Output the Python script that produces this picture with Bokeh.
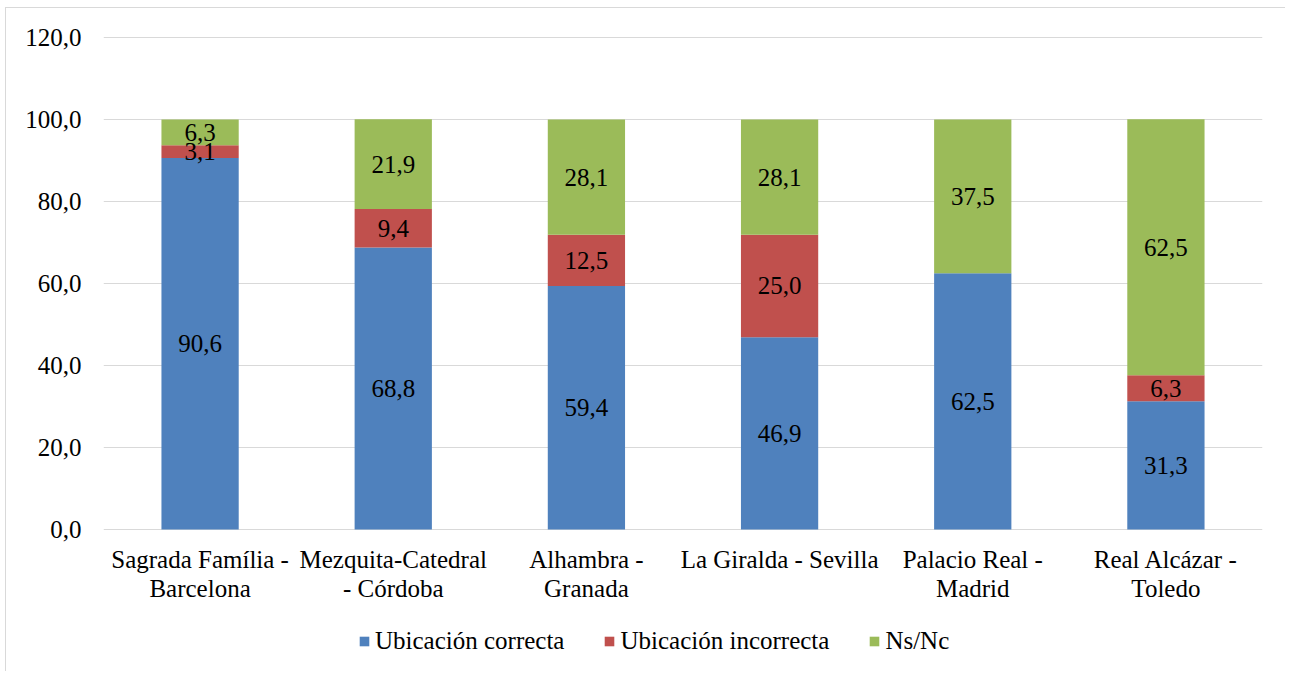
from bokeh.plotting import figure
from bokeh.models import (ColumnDataSource, CustomJSTickFormatter, Legend, LegendItem,
                          FixedTicker, Range1d)
from bokeh.core.properties import value
from bokeh.embed import file_html
from bokeh.resources import INLINE

# ---------------- data ----------------
categories = ["Sagrada Família -\nBarcelona", "Mezquita-Catedral\n- Córdoba", "Alhambra -\nGranada",
              "La Giralda - Sevilla", "Palacio Real -\nMadrid", "Real Alcázar -\nToledo"]
correcta = [90.6, 68.8, 59.4, 46.9, 62.5, 31.3]
incorrecta = [3.1, 9.4, 12.5, 25.0, 0.0, 6.3]
nsnc = [6.3, 21.9, 28.1, 28.1, 37.5, 62.5]
series_names = ["Ubicación correcta", "Ubicación incorrecta", "Ns/Nc"]
y_ticks = [0, 20, 40, 60, 80, 100, 120]

# ---------------- style / layout ----------------
colors = ["#4F81BD", "#C0504D", "#9BBB59"]
FONT = "Liberation Serif"
FS = "25px"
W, H = 1280, 664
Y_TOP = 120.5          # a little headroom so the 120 gridline is visible
Y_BOTTOM = -34.4       # room below zero for category labels and legend
PX_PER_UNIT = (H - 27 - 2) / (Y_TOP - Y_BOTTOM)
LABEL_TOP_PX = 17

src = ColumnDataSource(dict(cat=categories, c=correcta, i=incorrecta, n=nsnc))

p = figure(x_range=categories, y_range=Range1d(Y_BOTTOM, Y_TOP), width=W, height=H,
           output_backend="svg", toolbar_location=None,
           min_border_left=97, min_border_right=24, min_border_top=27, min_border_bottom=2)
p.outline_line_color = None
p.background_fill_color = "white"
p.border_fill_color = "white"
p.styles = {"position": "relative", "left": "5px", "top": "7px",
            "border-left": "1px solid #d9d9d9", "border-top": "1px solid #d9d9d9"}

rs = p.vbar_stack(["c", "i", "n"], x="cat", width=0.4, source=src, color=colors, line_color=None)

# data labels
lx, ly, lt = [], [], []
for k, cat in enumerate(categories):
    base = 0.0
    for vals in (correcta, incorrecta, nsnc):
        v = vals[k]
        if v > 0:
            lx.append(cat)
            ly.append(base + v / 2.0)
            lt.append(f"{v:.1f}".replace(".", ","))
        base += v
lsrc = ColumnDataSource(dict(x=lx, y=ly, t=lt))
p.text(x="x", y="y", text="t", source=lsrc, text_align="center", text_baseline="middle",
       text_font=value(FONT), text_font_size=FS, text_color="black")

# category labels (drawn below zero inside the frame)
csrc = ColumnDataSource(dict(x=categories, y=[-LABEL_TOP_PX / PX_PER_UNIT] * len(categories),
                             t=categories))
p.text(x="x", y="y", text="t", source=csrc, text_align="center", text_baseline="top",
       text_font=value(FONT), text_font_size=FS, text_color="black", text_line_height=1.06)

# axes
p.xaxis.visible = False
p.yaxis.ticker = FixedTicker(ticks=y_ticks)
p.yaxis.formatter = CustomJSTickFormatter(code="return tick.toFixed(1).replace('.', ',');")
p.yaxis.axis_line_color = None
p.yaxis.major_tick_line_color = None
p.yaxis.minor_tick_line_color = None
p.yaxis.major_tick_out = 0
p.yaxis.major_label_standoff = 22
p.yaxis.major_label_text_font = FONT
p.yaxis.major_label_text_font_size = FS
p.yaxis.major_label_text_color = "black"

p.xgrid.grid_line_color = None
p.ygrid.grid_line_color = "#d9d9d9"
p.ygrid.grid_line_width = 1

# legend
items = [LegendItem(label=series_names[k], renderers=[rs[k]]) for k in range(3)]
legend = Legend(items=items, orientation="horizontal", location=(255, 15),
                glyph_width=12, glyph_height=12, label_standoff=5, spacing=39,
                padding=0, margin=0, border_line_color=None, background_fill_alpha=0,
                label_text_font=FONT, label_text_font_size=FS, label_text_color="black")
p.add_layout(legend)

open("out.html", "w").write(file_html(p, INLINE))
